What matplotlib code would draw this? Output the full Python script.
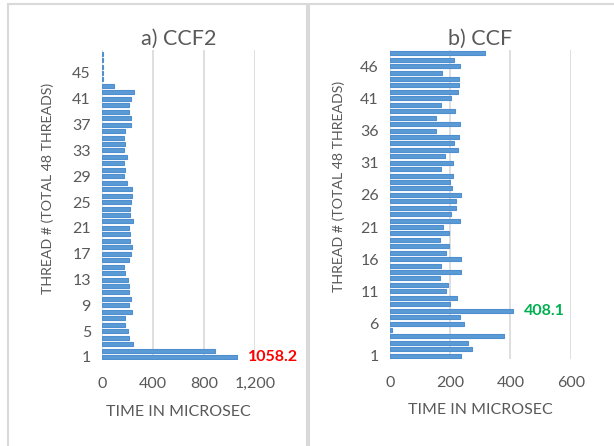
import matplotlib
matplotlib.use("Agg")
import matplotlib.pyplot as plt
from matplotlib.patches import Rectangle
import numpy as np

plt.rcParams['font.family'] = ['Lato', 'DejaVu Sans']

threads = list(range(1, 49))

ccf2_times = [1058.2, 888, 247, 209, 207, 184, 181, 237, 214, 224,
              214, 214, 207, 184, 176, 214, 224, 232, 222, 222,
              214, 240, 217, 219, 224, 232, 232, 194, 176, 181,
              176, 199, 176, 184, 176, 184, 224, 224, 209, 214,
              230, 252, 92, 8, 8, 8, 8, 8]

ccf_times = [237, 272, 259, 377, 5, 246, 234, 408.1, 198, 224,
             186, 191, 166, 235, 168, 236, 187, 196, 165, 195,
             177, 234, 202, 220, 218, 237, 207, 199, 209, 171,
             209, 184, 225, 212, 230, 154, 231, 152, 216, 170,
             204, 225, 230, 230, 172, 231, 213, 317]

left_ticks = [0, 400, 800, 1200]
left_tick_labels = ['0', '400', '800', '1,200']
right_ticks = [0, 200, 400, 600]
right_tick_labels = ['0', '200', '400', '600']
left_ythreads = list(range(1, 49, 4))
right_ythreads = list(range(1, 49, 5))

TXT = '#595959'
GRID = '#d9d9d9'
BAR = '#5b9bd5'
EDGE = '#4f8fcf'

fig = plt.figure(figsize=(6.14, 4.46), dpi=100)
W, H = 614, 446

def fx(px):
    return px / W

def fy(py):
    return 1 - py / H

# panel frames
fig.patches.append(Rectangle((fx(8), fy(460)), fx(307 - 8), (460 - 4) / H,
                             transform=fig.transFigure, fill=False,
                             edgecolor=GRID, linewidth=1.5, zorder=0))
fig.patches.append(Rectangle((fx(308.5), fy(460)), fx(640 - 308.5), (460 - 4) / H,
                             transform=fig.transFigure, fill=False,
                             edgecolor=GRID, linewidth=1.5, zorder=0))

def make_axes(x0, x1, ytop, ybot):
    return fig.add_axes([fx(x0), fy(ybot), fx(x1 - x0), (ybot - ytop) / H])

axL = make_axes(102, 255, 50.4, 360.2)
axR = make_axes(390, 570.7, 50.1, 358.9)

def style(ax, vals, xmax, ticks, tlabels, ythreads, title, ylab_pos):
    ax.barh(threads, vals, height=0.62, color=BAR, edgecolor=EDGE,
            linewidth=0.8, zorder=3)
    ax.set_xlim(0, xmax)
    ax.set_ylim(0.5, 48.5)
    ax.set_xticks(ticks)
    ax.set_xticklabels(tlabels)
    ax.set_yticks(ythreads)
    ax.set_yticklabels([str(t) for t in ythreads])
    ax.tick_params(axis='both', length=0, colors=TXT, labelsize=11.5)
    ax.tick_params(axis='x', pad=12)
    ax.tick_params(axis='y', pad=8)
    for s in ax.spines.values():
        s.set_visible(False)
    ax.grid(axis='x', color=GRID, linewidth=1.2, zorder=0)
    ax.set_axisbelow(True)
    ax.set_xlabel('TIME IN MICROSEC', color=TXT, fontsize=11.5, labelpad=10)
    ax.set_ylabel('THREAD # (TOTAL 48 THREADS)', color=TXT, fontsize=10.2,
                  va='center')
    ax.yaxis.set_label_coords(*ylab_pos)
    ax.set_title(title, color=TXT, fontsize=15.5, pad=4)

style(axL, ccf2_times, 1200, left_ticks, left_tick_labels, left_ythreads,
      'a) CCF2', (-0.353, 0.555))
style(axR, ccf_times, 600, right_ticks, right_tick_labels, right_ythreads,
      'b) CCF', (-0.285, 0.56))

axL.annotate('1058.2', xy=(ccf2_times[0], 1), xytext=(8, 0),
             textcoords='offset points', color='#ff0000', fontweight='bold',
             fontsize=11.5, va='center', ha='left', annotation_clip=False)
axR.annotate('408.1', xy=(ccf_times[7], 8), xytext=(8, 0),
             textcoords='offset points', color='#00b050', fontweight='bold',
             fontsize=11.5, va='center', ha='left', annotation_clip=False)

fig.savefig('out.png', dpi=100)
